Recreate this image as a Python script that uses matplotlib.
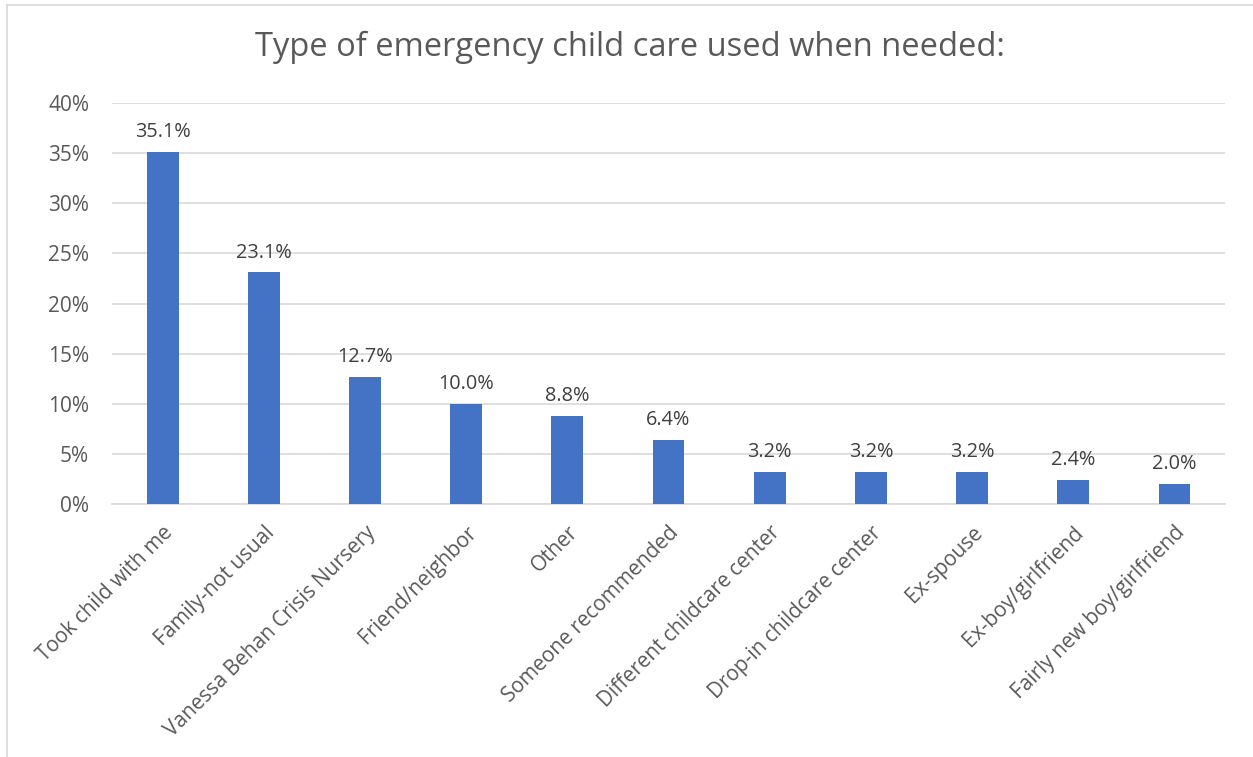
import matplotlib
matplotlib.use("Agg")
import matplotlib.pyplot as plt
from matplotlib.ticker import FuncFormatter, MultipleLocator
from matplotlib.lines import Line2D

categories = [
    "Took child with me",
    "Family-not usual",
    "Vanessa Behan Crisis Nursery",
    "Friend/neighbor",
    "Other",
    "Someone recommended",
    "Different childcare center",
    "Drop-in childcare center",
    "Ex-spouse",
    "Ex-boy/girlfriend",
    "Fairly new boy/girlfriend",
]
shares = [35.1, 23.1, 12.7, 10.0, 8.8, 6.4, 3.2, 3.2, 3.2, 2.4, 2.0]
title = "Type of emergency child care used when needed:"

plt.rcParams["font.family"] = ["Open Sans", "DejaVu Sans"]

fig = plt.figure(figsize=(12.53, 7.57), dpi=100)
ax = fig.add_axes([0.0894, 0.3342, 0.9777 - 0.0894, 0.8639 - 0.3342])

x = list(range(len(categories)))
ax.bar(x, shares, width=0.315, color="#4472C4", zorder=3)

for xi, v in zip(x, shares):
    ax.annotate(f"{v:.1f}%", (xi, v), xytext=(0, 7), textcoords="offset points",
                ha="center", va="bottom", fontsize=14.3, color="#404040")

ax.set_xlim(-0.5, len(categories) - 0.5)
ax.set_ylim(0, 40)
ax.yaxis.set_major_locator(MultipleLocator(5))
ax.yaxis.set_major_formatter(FuncFormatter(lambda v, _: f"{v:.0f}%"))
ax.grid(axis="y", color="#D9D9D9", linewidth=1.2, zorder=0)
ax.tick_params(axis="y", length=0, labelsize=15, labelcolor="#595959", pad=16.5)
ax.tick_params(axis="x", length=0, labelsize=15, labelcolor="#595959", pad=13)
ax.set_xticks(x)
ax.set_xticklabels(categories, rotation=45, ha="right", rotation_mode="anchor")
for s in ["top", "right", "left"]:
    ax.spines[s].set_visible(False)
ax.spines["bottom"].set_color("#D9D9D9")
ax.spines["bottom"].set_linewidth(1.2)

fig.text(0.503, 0.938, title, ha="center", va="center", fontsize=23.5, color="#595959")

# chart frame (top and left edges)
fig.add_artist(Line2D([7 / 1253, 7 / 1253], [0, 1 - 5 / 757], transform=fig.transFigure,
                      color="#D9D9D9", linewidth=1.2))
fig.add_artist(Line2D([7 / 1253, 1], [1 - 5 / 757, 1 - 5 / 757], transform=fig.transFigure,
                      color="#D9D9D9", linewidth=1.2))

fig.savefig("out.png", dpi=100, facecolor="white")
